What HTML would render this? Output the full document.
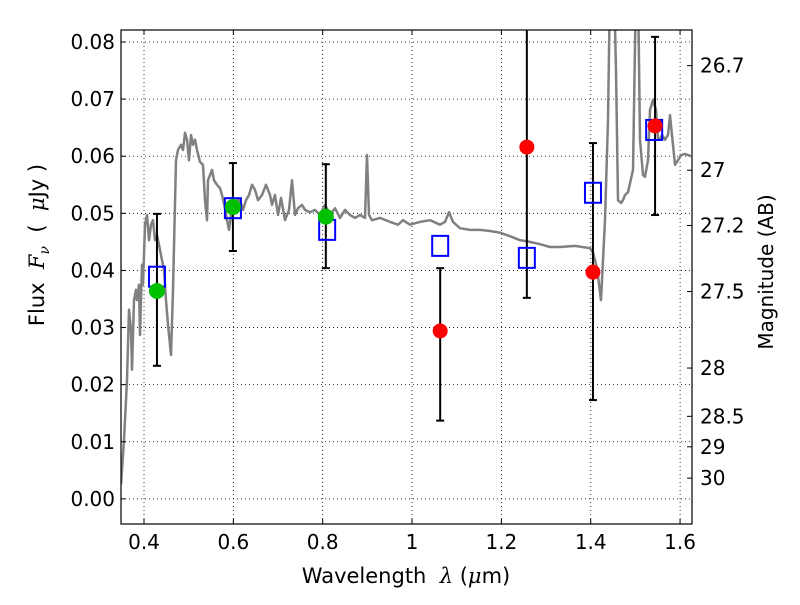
<!DOCTYPE html>
<html><head><meta charset="utf-8"><style>
body{margin:0;background:#fff}
svg{font-family:"DejaVu Sans","Liberation Sans",sans-serif}
</style></head><body>
<svg id="chart" width="800" height="600" viewBox="0 0 800 600" xmlns="http://www.w3.org/2000/svg">
<rect width="800" height="600" fill="#fff"/>
<g id="grid"></g>
<g id="plot"></g>
<g id="axes"></g>
<text x="406" y="583" font-size="21" text-anchor="middle">Wavelength&#160;&#160;<tspan font-style="italic" font-family="DejaVu Serif,serif">λ</tspan>&#160;(<tspan font-style="italic" font-family="DejaVu Serif,serif">μ</tspan>m)</text>
<text transform="translate(44,245) rotate(-90)" font-size="21" text-anchor="middle">Flux&#160;&#160;<tspan font-style="italic" font-family="DejaVu Serif,serif">F</tspan><tspan font-style="italic" font-size="14" dy="5" font-family="DejaVu Serif,serif">ν</tspan><tspan dy="-5">&#160;&#160;(&#160;&#160;</tspan><tspan font-style="italic" font-family="DejaVu Serif,serif">μ</tspan>Jy&#160;)</text>
<text transform="translate(773,272) rotate(-90)" font-size="20" text-anchor="middle">Magnitude (AB)</text>
</svg>
<script>
const specLam=[0.3485,0.3552,0.3619,0.3664,0.3709,0.3731,0.3776,0.3821,0.3843,0.3888,0.3910,0.3955,0.3978,0.4022,0.4067,0.4112,0.4157,0.4201,0.4246,0.4291,0.4358,0.4403,0.4448,0.4492,0.4537,0.4604,0.4649,0.4716,0.4761,0.4828,0.4873,0.4918,0.4963,0.5007,0.5052,0.5097,0.5142,0.5186,0.5254,0.5321,0.5366,0.5410,0.5433,0.5478,0.5522,0.5567,0.5634,0.5701,0.5746,0.5813,0.5858,0.5903,0.5948,0.5992,0.6037,0.6082,0.6149,0.6216,0.6283,0.6351,0.6418,0.6485,0.6552,0.6642,0.6731,0.6821,0.6865,0.6933,0.7000,0.7067,0.7156,0.7246,0.7313,0.7380,0.7448,0.7537,0.7604,0.7716,0.7828,0.7940,0.8052,0.8164,0.8276,0.8388,0.8500,0.8612,0.8724,0.8836,0.8947,0.8992,0.9037,0.9104,0.9283,0.9507,0.9686,0.9798,0.9955,1.0179,1.0403,1.0626,1.0738,1.0828,1.0917,1.1074,1.1298,1.1522,1.1746,1.1970,1.2193,1.2417,1.2641,1.2865,1.3089,1.3313,1.3649,1.3984,1.4051,1.4141,1.4230,1.4320,1.4387,1.4432,1.4522,1.4566,1.4611,1.4678,1.4723,1.4768,1.4835,1.4947,1.5014,1.5059,1.5103,1.5170,1.5215,1.5282,1.5327,1.5394,1.5461,1.5506,1.5551,1.5596,1.5663,1.5730,1.5775,1.5819,1.5886,1.5954,1.6021,1.6110,1.6245];
const specFlux=[0.0025,0.0103,0.0208,0.0331,0.0296,0.0226,0.0348,0.0366,0.0348,0.0375,0.0287,0.0410,0.0375,0.0480,0.0497,0.0453,0.0480,0.0488,0.0453,0.0462,0.0436,0.0418,0.0401,0.0348,0.0305,0.0252,0.0366,0.0593,0.0611,0.0620,0.0611,0.0641,0.0629,0.0593,0.0637,0.0620,0.0629,0.0611,0.0590,0.0585,0.0523,0.0488,0.0558,0.0567,0.0576,0.0558,0.0550,0.0544,0.0532,0.0509,0.0488,0.0471,0.0497,0.0515,0.0515,0.0523,0.0523,0.0506,0.0523,0.0532,0.0550,0.0541,0.0523,0.0532,0.0550,0.0532,0.0515,0.0532,0.0497,0.0527,0.0488,0.0506,0.0558,0.0497,0.0509,0.0515,0.0506,0.0502,0.0506,0.0497,0.0515,0.0497,0.0509,0.0492,0.0506,0.0497,0.0492,0.0497,0.0492,0.0602,0.0497,0.0488,0.0492,0.0485,0.0480,0.0488,0.0480,0.0485,0.0488,0.0480,0.0485,0.0502,0.0485,0.0474,0.0471,0.0471,0.0469,0.0466,0.0460,0.0453,0.0450,0.0446,0.0441,0.0441,0.0443,0.0439,0.0431,0.0404,0.0348,0.0488,0.0664,0.0900,0.0900,0.0751,0.0523,0.0518,0.0523,0.0532,0.0537,0.0576,0.0900,0.0900,0.0629,0.0567,0.0564,0.0593,0.0681,0.0699,0.0681,0.0632,0.0629,0.0637,0.0629,0.0637,0.0672,0.0637,0.0585,0.0593,0.0602,0.0604,0.0600];
const sqLam=[0.429,0.599,0.810,1.063,1.257,1.405,1.542];
const sqFlux=[0.0389,0.0509,0.0471,0.0443,0.0422,0.0536,0.0646];
const greenLam=[0.429,0.599,0.807];
const greenFlux=[0.0364,0.0511,0.0494];
const redLam=[1.063,1.257,1.405,1.544];
const redFlux=[0.0294,0.0616,0.0397,0.0653];
const errLam=[0.429,0.599,0.807,1.063,1.257,1.405,1.544];
const errLow=[0.0233,0.0434,0.0404,0.0137,0.0352,0.0173,0.0497];
const errHigh=[0.0499,0.0588,0.0586,0.0404,0.0900,0.0623,0.0809];
const xTicks=[0.4,0.6,0.8,1.0,1.2,1.4,1.6];
const xTickLabels=["0.4","0.6","0.8","1","1.2","1.4","1.6"];
const yTicks=[0,0.01,0.02,0.03,0.04,0.05,0.06,0.07,0.08];
const yTickLabels=["0.00","0.01","0.02","0.03","0.04","0.05","0.06","0.07","0.08"];
const magTicks=[26.7,27,27.2,27.5,28,28.5,29,30];
const magLabels=["26.7","27","27.2","27.5","28","28.5","29","30"];

const L=121,R=692,T=30,B=524;
const xMin=0.3485,xMax=1.6267,yMin=-0.0044,yMax=0.0821;
const sx=v=>L+(v-xMin)/(xMax-xMin)*(R-L);
const sy=v=>B-(v-yMin)/(yMax-yMin)*(B-T);
const NS="http://www.w3.org/2000/svg";
function mk(tag,attrs,parent){const e=document.createElementNS(NS,tag);for(const k in attrs)e.setAttribute(k,attrs[k]);parent.appendChild(e);return e;}
const grid=document.getElementById('grid'),plot=document.getElementById('plot'),axes=document.getElementById('axes');

const cp=mk('clipPath',{id:'clip'},document.getElementById('chart'));
mk('rect',{x:L,y:T,width:R-L,height:B-T},cp);
plot.setAttribute('clip-path','url(#clip)');

xTicks.forEach((v,i)=>{const x=sx(v);
 const g=mk('line',{x1:x,x2:x,y1:T,y2:B,stroke:'#000','stroke-dasharray':'1,3','stroke-width':0.8},grid);
 
 
 mk('line',{x1:x,x2:x,y1:B,y2:B-5,stroke:'#000'},axes);
 mk('line',{x1:x,x2:x,y1:T,y2:T+5,stroke:'#000'},axes);
 const t=mk('text',{x:x,y:B+25,'font-size':20,'text-anchor':'middle'},axes);t.textContent=xTickLabels[i];
 
 
});
yTicks.forEach((v,i)=>{const y=sy(v);
 const g=mk('line',{x1:L,x2:R,y1:y,y2:y,stroke:'#000','stroke-dasharray':'1,3','stroke-width':0.8},grid);
 
 
 mk('line',{x1:L,x2:L+5,y1:y,y2:y,stroke:'#000'},axes);
 const t=mk('text',{x:L-6,y:y+7,'font-size':20,'text-anchor':'end'},axes);t.textContent=yTickLabels[i];
 
 
});
magTicks.forEach((m,i)=>{const y=sy(Math.pow(10,(23.9-m)/2.5));
 mk('line',{x1:R,x2:R-5,y1:y,y2:y,stroke:'#000'},axes);
 const t=mk('text',{x:R+8,y:y+7,'font-size':20},axes);t.textContent=magLabels[i];
 
 
});

let d='';specLam.forEach((l,i)=>{d+=(i?'L':'M')+sx(l).toFixed(1)+','+sy(specFlux[i]).toFixed(1);});
const sp=mk('path',{d:d,fill:'none',stroke:'#808080','stroke-width':2.5,'stroke-linejoin':'round'},plot);



errLam.forEach((l,i)=>{const x=sx(l),y1=sy(errLow[i]),y2=sy(errHigh[i]);
 const g=mk('g',{},plot);
 
 
 mk('line',{x1:x,x2:x,y1:y1,y2:y2,stroke:'#000','stroke-width':2},g);
 mk('line',{x1:x-4,x2:x+4,y1:y1,y2:y1,stroke:'#000','stroke-width':2},g);
 mk('line',{x1:x-4,x2:x+4,y1:y2,y2:y2,stroke:'#000','stroke-width':2},g);
});
sqLam.forEach((l,i)=>{const r=mk('rect',{x:sx(l)-8,y:sy(sqFlux[i])-10,width:16,height:20,fill:'none',stroke:'#0000ff','stroke-width':2},plot);
 
 
});
greenLam.forEach((l,i)=>{const c=mk('circle',{cx:sx(l),cy:sy(greenFlux[i]),r:8,fill:'#00c000'},plot);
 
 
});
redLam.forEach((l,i)=>{const c=mk('circle',{cx:sx(l),cy:sy(redFlux[i]),r:7.5,fill:'#ff0000'},plot);
 
 
});
const fr=mk('rect',{x:L,y:T,width:R-L,height:B-T,fill:'none',stroke:'#000','stroke-width':1.2},axes);


</script>
</body></html>
